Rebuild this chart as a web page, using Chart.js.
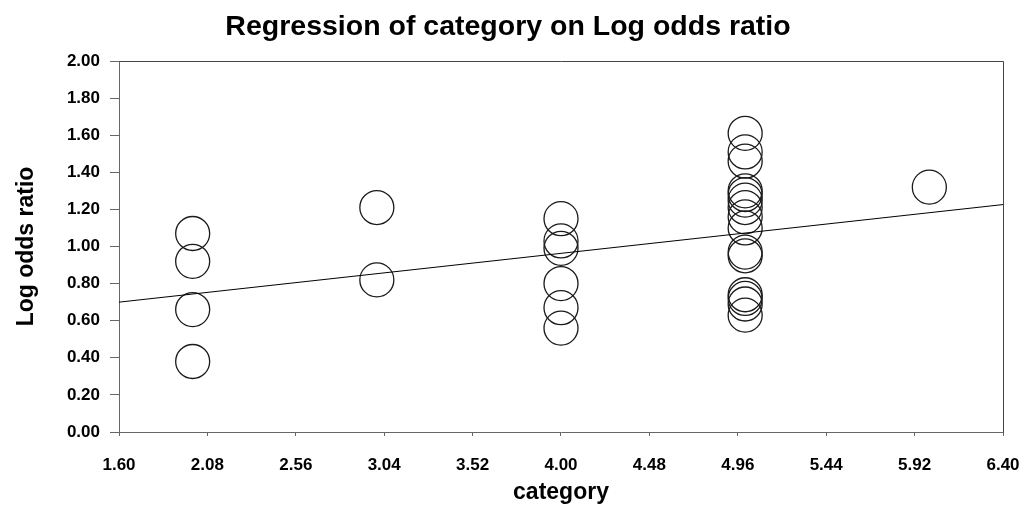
<!DOCTYPE html>
<html><head><meta charset="utf-8">
<script src="https://cdn.jsdelivr.net/npm/chart.js@4.4.1/dist/chart.umd.min.js"></script>
<style>html,body{margin:0;padding:0;background:#fff;} #wrap{width:1030px;height:514px;}</style>
</head><body><div id="wrap"><canvas id="c" width="1030" height="514"></canvas></div>
<script>
const chartTitle = 'Regression of category on Log odds ratio';
const xAxisTitle = 'category';
const yAxisTitle = 'Log odds ratio';
const xTickValues = [1.60, 2.08, 2.56, 3.04, 3.52, 4.00, 4.48, 4.96, 5.44, 5.92, 6.40];
const yTickValues = [0.00, 0.20, 0.40, 0.60, 0.80, 1.00, 1.20, 1.40, 1.60, 1.80, 2.00];
const categoryValues = [2, 2, 2, 2,
  3, 3,
  4, 4, 4, 4, 4, 4,
  5, 5, 5, 5, 5, 5, 5, 5, 5, 5, 5, 5, 5, 5, 5,
  6];
const logOddsValues = [1.07, 0.92, 0.66, 0.38,
  1.21, 0.82,
  1.15, 1.03, 0.99, 0.80, 0.67, 0.56,
  1.61, 1.51, 1.46, 1.30, 1.28, 1.25, 1.21, 1.16, 1.10, 0.97, 0.95, 0.74, 0.72, 0.69, 0.63,
  1.32];
const regressionX = [1.60, 6.40];
const regressionY = [0.70, 1.226];

const FONT = "'Liberation Sans', Arial, sans-serif";
const axisColor = '#666';

const boxPlugin = {
  id: 'box',
  afterDraw(chart) {
    const a = chart.chartArea, ctx = chart.ctx;
    ctx.save();
    ctx.strokeStyle = '#444';
    ctx.lineWidth = 1;
    ctx.beginPath();
    ctx.moveTo(Math.round(a.left) + 0.5, Math.round(a.top) + 0.5);
    ctx.lineTo(Math.round(a.right) + 0.5, Math.round(a.top) + 0.5);
    ctx.lineTo(Math.round(a.right) + 0.5, Math.round(a.bottom) + 0.5);
    ctx.stroke();
    ctx.restore();
  }
};

new Chart(document.getElementById('c'), {
  type: 'scatter',
  data: {
    datasets: [
      {
        type: 'scatter',
        data: categoryValues.map((c, i) => ({x: c, y: logOddsValues[i]})),
        pointStyle: 'circle',
        pointRadius: 17,
        pointHoverRadius: 17,
        borderColor: '#1a1a1a',
        borderWidth: 1.3,
        backgroundColor: 'rgba(0,0,0,0)',
        order: 2
      },
      {
        type: 'line',
        data: regressionX.map((x, i) => ({x: x, y: regressionY[i]})),
        borderColor: '#000',
        borderWidth: 1,
        pointRadius: 0,
        fill: false,
        order: 1
      }
    ]
  },
  options: {
    responsive: false,
    animation: false,
    events: [],
    layout: {padding: {left: 13, right: 27, top: 0, bottom: 0}},
    plugins: {
      legend: {display: false},
      tooltip: {enabled: false},
      title: {
        display: true,
        text: chartTitle,
        color: '#000',
        font: {family: FONT, size: 28.5, weight: 'bold'},
        padding: {top: 10, bottom: 16.8}
      }
    },
    scales: {
      x: {
        type: 'linear',
        min: 1.6, max: 6.4,
        afterBuildTicks: s => { s.ticks = xTickValues.map(v => ({value: v})); },
        afterFit: s => { s.height = 82; s.paddingLeft = 0; s.paddingRight = 0; },
        ticks: {
          callback: v => Number(v).toFixed(2),
          color: '#000',
          font: {family: FONT, size: 17, weight: 'bold'},
          padding: 19,
          maxRotation: 0, autoSkip: false
        },
        grid: {drawOnChartArea: false, drawTicks: true, tickLength: 4, color: axisColor},
        border: {display: true, color: axisColor},
        title: {
          display: true, text: xAxisTitle, color: '#000',
          font: {family: FONT, size: 23, weight: 'bold'},
          padding: {top: 0, bottom: 8}
        }
      },
      y: {
        type: 'linear',
        min: 0, max: 2,
        afterBuildTicks: s => { s.ticks = yTickValues.map(v => ({value: v})); },
        afterFit: s => { s.width = 106; },
        ticks: {
          callback: v => Number(v).toFixed(2),
          color: '#000',
          font: {family: FONT, size: 17, weight: 'bold'},
          padding: 10,
          autoSkip: false
        },
        grid: {drawOnChartArea: false, drawTicks: true, tickLength: 9, color: axisColor},
        border: {display: true, color: axisColor},
        title: {
          display: true, text: yAxisTitle, color: '#000',
          font: {family: FONT, size: 23, weight: 'bold'},
          padding: {top: 0, bottom: 0}
        }
      }
    }
  },
  plugins: [boxPlugin]
});
</script>
</body></html>
